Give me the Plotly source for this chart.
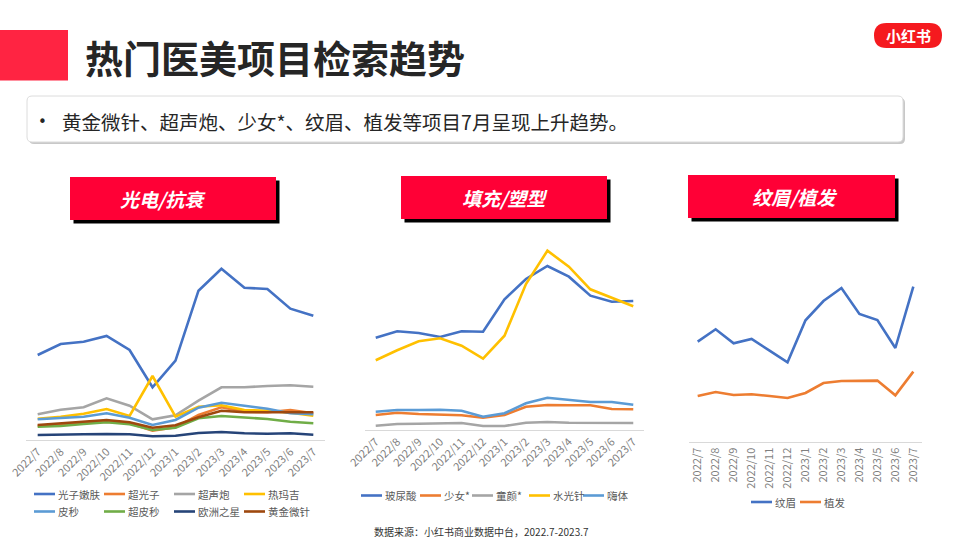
import plotly.graph_objects as go

W, H = 960, 540
FONT = "Noto Sans CJK SC"

# ---------------- data ----------------
months = ["2022/7", "2022/8", "2022/9", "2022/10", "2022/11", "2022/12",
          "2023/1", "2023/2", "2023/3", "2023/4", "2023/5", "2023/6", "2023/7"]

# Panel 1: 光电/抗衰
p1_names = ["光子嫩肤", "超光子", "超声炮", "热玛吉", "皮秒", "超皮秒", "欧洲之星", "黄金微针"]
guangzi_nenfu = [85, 96, 98.3, 104, 90, 52.7, 79.3, 149.3, 171.3, 152.3, 151, 131.3, 124.3]
chao_guangzi = [14.3, 16, 17.3, 18.3, 16.7, 9.3, 12.7, 25, 32.7, 28.3, 27.7, 30, 26.7]
chao_shengpao = [25.7, 30.3, 32.7, 41.7, 34.3, 20.7, 24.7, 39.3, 52.7, 52.7, 54, 54.7, 53.3]
re_maji = [21.3, 23.3, 26.3, 31, 24, 64, 23.3, 33.3, 34.7, 30, 29.3, 27.3, 24.3]
pimiao = [20.7, 21.7, 23.3, 26.7, 22.3, 15, 20, 32.3, 37.3, 34.3, 31.3, 26.7, 25.7]
chao_pimiao = [13.3, 14, 16, 17.7, 15.7, 10, 12.3, 21.7, 24, 22.3, 21, 18.3, 16.7]
ouzhou_zhixing = [5, 5.7, 5.7, 6, 5.7, 3.7, 4.3, 7, 8, 6.7, 6.3, 6.7, 5.3]
huangjin_weizhen = [15, 16.7, 18.3, 20, 17.7, 12.3, 14.7, 22.7, 29.3, 27.7, 27.7, 27.7, 27.7]
p1_values = [guangzi_nenfu, chao_guangzi, chao_shengpao, re_maji,
             pimiao, chao_pimiao, ouzhou_zhixing, huangjin_weizhen]
p1_colors = ["#4472C4", "#ED7D31", "#A5A5A5", "#FFC000",
             "#5B9BD5", "#70AD47", "#264478", "#9E480E"]

# Panel 2: 填充/塑型
p2_names = ["玻尿酸", "少女*", "童颜*", "水光针", "嗨体"]
boniaosuan = [92.3, 98.7, 97, 93, 98.7, 98.3, 130.7, 151, 164, 153.3, 134.3, 128.3, 129]
shaonv = [15, 17.3, 16, 15.3, 14.7, 12.3, 15, 23.3, 25, 24.7, 24.7, 21, 20.7]
tongyan = [4.3, 6, 6.3, 6.3, 7, 4, 4, 7.3, 8, 7.3, 7.3, 7, 7]
shuiguangzhen = [69.7, 79.7, 88.7, 91.7, 84.3, 71.3, 94.3, 146, 179.3, 163.3, 140.7, 132, 123.7]
haiti = [18.3, 20, 20, 20.3, 19.3, 13.3, 16.7, 26.7, 32.3, 30, 28, 28, 25.3]
p2_values = [boniaosuan, shaonv, tongyan, shuiguangzhen, haiti]
p2_colors = ["#4472C4", "#ED7D31", "#A5A5A5", "#FFC000", "#5B9BD5"]

# Panel 3: 纹眉/植发
p3_names = ["纹眉", "植发"]
wenmei = [100.7, 113, 99, 103.3, 91.7, 80, 122, 141.3, 154.3, 128.3, 122.3, 94.3, 155.7]
zhifa = [46.3, 50.3, 47.3, 48, 46.3, 44.3, 49.3, 59.3, 61.3, 61.3, 61.7, 47, 70.7]
p3_values = [wenmei, zhifa]
p3_colors = ["#4472C4", "#ED7D31"]

panel_titles = ["光电/抗衰", "填充/塑型", "纹眉/植发"]
main_title = "热门医美项目检索趋势"
subtitle = "黄金微针、超声炮、少女*、纹眉、植发等项目7月呈现上升趋势。"
source_note = "数据来源：小红书商业数据中台，2022.7-2023.7"
logo_text = "小红书"


# ---------------- helpers ----------------
def fx(x):
    return x / W


def fy(y):
    return 1 - y / H


def rrect_path(x0, y0, x1, y1, r):
    pts = [
        ("M", [(x0 + r, y0)]), ("L", [(x1 - r, y0)]), ("Q", [(x1, y0), (x1, y0 + r)]),
        ("L", [(x1, y1 - r)]), ("Q", [(x1, y1), (x1 - r, y1)]),
        ("L", [(x0 + r, y1)]), ("Q", [(x0, y1), (x0, y1 - r)]),
        ("L", [(x0, y0 + r)]), ("Q", [(x0, y0), (x0 + r, y0)]),
    ]
    s = ""
    for cmd, ps in pts:
        s += cmd + " " + " ".join(f"{fx(a):.5f},{fy(b):.5f}" for a, b in ps) + " "
    return s + "Z"


fig = go.Figure()

# ---------------- traces ----------------
panels = [
    (p1_names, p1_values, p1_colors, "x", "y"),
    (p2_names, p2_values, p2_colors, "x2", "y2"),
    (p3_names, p3_values, p3_colors, "x3", "y3"),
]
for names, values, colors, xa, ya in panels:
    for name, vals, col in zip(names, values, colors):
        fig.add_trace(go.Scatter(
            x=months, y=vals, name=name, mode="lines",
            line=dict(color=col, width=2.6),
            xaxis=xa, yaxis=ya, showlegend=False,
            hovertemplate="%{x}: %{y}<extra>" + name + "</extra>",
        ))

tickfont = dict(family=FONT, size=11, color="#7F7F7F")


def xaxis_cfg(dom, angle, anchor):
    return dict(domain=dom, type="category", range=[-0.5, 12.5], anchor=anchor,
                showline=True, linecolor="#D9D9D9", linewidth=1,
                showgrid=False, zeroline=False, ticks="", automargin=False,
                tickangle=angle, tickfont=tickfont, fixedrange=True)


def yaxis_cfg(dom, anchor):
    return dict(domain=dom, range=[0, 210], visible=False, showgrid=False,
                zeroline=False, anchor=anchor, fixedrange=True, automargin=False)


# pixel geometry of the three plot areas
p1_x, p1_y = (26.2, 324.8), (440, 230)
p2_x, p2_y = (365, 644), (430, 220)
p3_x, p3_y = (688.7, 922.3), (442.3, 232.3)

fig.update_layout(
    xaxis=xaxis_cfg([fx(p1_x[0]), fx(p1_x[1])], -45, "y"),
    yaxis=yaxis_cfg([fy(p1_y[0]), fy(p1_y[1])], "x"),
    xaxis2=xaxis_cfg([fx(p2_x[0]), fx(p2_x[1])], -45, "y2"),
    yaxis2=yaxis_cfg([fy(p2_y[0]), fy(p2_y[1])], "x2"),
    xaxis3=xaxis_cfg([fx(p3_x[0]), fx(p3_x[1])], -90, "y3"),
    yaxis3=yaxis_cfg([fy(p3_y[0]), fy(p3_y[1])], "x3"),
)

shapes = []
annotations = []

# ---------------- header ----------------
shapes.append(dict(type="rect", xref="paper", yref="paper",
                   x0=fx(0), x1=fx(68), y0=fy(30), y1=fy(80.5),
                   fillcolor="#FF2442", line=dict(width=0), layer="below"))
annotations.append(dict(text="<b>" + main_title + "</b>", xref="paper", yref="paper",
                        x=fx(83), y=fy(56), xanchor="left", yanchor="middle",
                        showarrow=False,
                        font=dict(family=FONT, size=38, color="#262626")))

# logo
shapes.append(dict(type="path", xref="paper", yref="paper",
                   path=rrect_path(874, 23, 942, 48, 12.5),
                   fillcolor="#F51A1F", line=dict(width=0)))
annotations.append(dict(text="<b>" + logo_text + "</b>", xref="paper", yref="paper",
                        x=fx(908), y=fy(35.5), xanchor="center", yanchor="middle",
                        showarrow=False,
                        font=dict(family=FONT, size=15, color="#FFFFFF")))

# subtitle box with shadow
shapes.append(dict(type="path", xref="paper", yref="paper",
                   path=rrect_path(29, 98, 905, 144, 5),
                   fillcolor="#C8C8C8", line=dict(width=0), layer="below"))
shapes.append(dict(type="path", xref="paper", yref="paper",
                   path=rrect_path(27, 96, 903, 142, 5),
                   fillcolor="#FFFFFF", line=dict(color="#DCDCDC", width=1), layer="below"))
annotations.append(dict(text="•", xref="paper", yref="paper",
                        x=fx(36), y=fy(122), xanchor="left", yanchor="middle",
                        showarrow=False, font=dict(family="DejaVu Sans", size=15, color="#262626")))
annotations.append(dict(text=subtitle, xref="paper", yref="paper",
                        x=fx(60), y=fy(122), xanchor="left", yanchor="middle",
                        showarrow=False, font=dict(family=FONT, size=19.5, color="#262626")))

# ---------------- panel titles ----------------
title_boxes = [(70, 177, 276, 220, 163), (401, 176, 607, 219, 505), (688, 175, 895, 218, 794)]
for (x0, y0, x1, y1, tx), ttl in zip(title_boxes, panel_titles):
    shapes.append(dict(type="rect", xref="paper", yref="paper",
                       x0=fx(x0 + 3.5), x1=fx(x1 + 3.5), y0=fy(y0 + 3.5), y1=fy(y1 + 3.5),
                       fillcolor="#000000", line=dict(width=0), layer="below"))
    shapes.append(dict(type="rect", xref="paper", yref="paper",
                       x0=fx(x0), x1=fx(x1), y0=fy(y0), y1=fy(y1),
                       fillcolor="#FF0036", line=dict(width=0), layer="below"))
    annotations.append(dict(text="<b><i>" + ttl + "</i></b>", xref="paper", yref="paper",
                            x=fx(tx), y=fy((y0 + y1) / 2), xanchor="center", yanchor="middle",
                            showarrow=False,
                            font=dict(family=FONT, size=19, color="#FFFFFF")))

# ---------------- legends (swatch + label) ----------------
legend_font = dict(family=FONT, size=10.5, color="#595959")


def add_legend(names, colors, xs, ys):
    for name, col, lx, ly in zip(names, colors, xs, ys):
        shapes.append(dict(type="line", xref="paper", yref="paper",
                           x0=fx(lx), x1=fx(lx + 21), y0=fy(ly), y1=fy(ly),
                           line=dict(color=col, width=2.6)))
        annotations.append(dict(text=name, xref="paper", yref="paper",
                                x=fx(lx + 22), y=fy(ly), xanchor="left", yanchor="middle",
                                showarrow=False, font=legend_font))


add_legend(p1_names, p1_colors,
           [34, 104, 174, 244] * 2, [494] * 4 + [511.5] * 4)
add_legend(p2_names, p2_colors, [361, 420, 472, 529, 583], [495.5] * 5)
add_legend(p3_names, p3_colors, [751, 800], [502] * 2)

annotations.append(dict(text=source_note, xref="paper", yref="paper",
                        x=fx(481), y=fy(531), xanchor="center", yanchor="middle",
                        showarrow=False, font=dict(family=FONT, size=10, color="#333333")))

fig.update_layout(
    width=W, height=H,
    margin=dict(l=0, r=0, t=0, b=0, autoexpand=False),
    paper_bgcolor="#FFFFFF", plot_bgcolor="rgba(0,0,0,0)",
    showlegend=False,
    shapes=shapes, annotations=annotations,
    font=dict(family=FONT),
)

fig.write_html(
    "out.html",
    config={"displayModeBar": False},
    post_script="document.body.style.margin='0';document.body.style.overflow='hidden';",
)
